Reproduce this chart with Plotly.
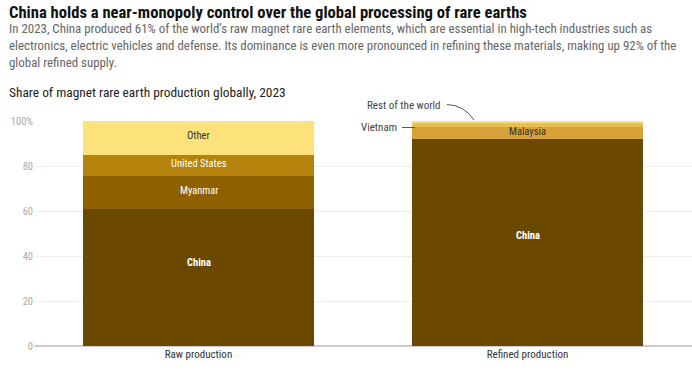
import plotly.graph_objects as go

categories = ["Raw production", "Refined production"]
layer_names = [["China", "China"], ["Myanmar", "Malaysia"], ["United States", "Vietnam"], ["Other", "Rest of the world"]]
layer_values = [[61, 92], [14.6, 5.3], [9.3, 1.6], [15.1, 1.1]]
layer_colors = [["#6b4800", "#6b4800"], ["#8d6100", "#d8a23a"], ["#b5820b", "#ecbd4e"], ["#fde27b", "#fde27b"]]
label_show = [[True, True], [True, True], [True, False], [True, False]]
label_color = [["#ffffff", "#ffffff"], ["#ffffff", "#333333"], ["#ffffff", "#333333"], ["#333333", "#333333"]]
china_label_y = [37, 49]
y_ticks = [0, 20, 40, 60, 80, 100]
y_ticktext = ["0", "20", "40", "60", "80", "100%"]

FONT = "Liberation Sans Narrow, Roboto Condensed, Arial Narrow, Liberation Sans, sans-serif"

fig = go.Figure()
for i in range(len(layer_values)):
    fig.add_trace(go.Bar(
        x=categories, y=layer_values[i], name=layer_names[i][0],
        marker=dict(color=layer_colors[i], line=dict(width=0)),
        hoverinfo="skip", showlegend=False,
    ))

annotations = []
for j, cat in enumerate(categories):
    base = 0
    for i in range(len(layer_values)):
        v = layer_values[i][j]
        if label_show[i][j]:
            y = china_label_y[j] if i == 0 else base + v / 2 + 0.9
            annotations.append(dict(
                x=cat, y=y, xref="x", yref="y", text=("<b>%s</b>" % layer_names[i][j]) if i == 0 else layer_names[i][j],
                showarrow=False, font=dict(size=10.5, color=label_color[i][j], family=FONT),
            ))
        base += v

L, R, T, B = 34, 0, 121, 35
W, H = 692, 381
pw, ph = W - L - R, H - T - B
def px(x):
    return (x - L) / pw
def py(y):
    return (H - B - y) / ph

annotations += [
    dict(x=px(7), y=py(12), xref="paper", yref="paper", xanchor="left", yanchor="middle",
         text="<b>China holds a near-monopoly control over the global processing of rare earths</b>",
         showarrow=False, font=dict(size=16.6, color="#111111", family=FONT)),
    dict(x=px(7), y=py(45.5), xref="paper", yref="paper", xanchor="left", yanchor="middle", align="left",
         text="In 2023, China produced 61% of the world’s raw magnet rare earth elements, which are essential in high-tech industries such as<br>"
              "electronics, electric vehicles and defense. Its dominance is even more pronounced in refining these materials, making up 92% of the<br>"
              "global refined supply.",
         showarrow=False, font=dict(size=12.9, color="#666666", family=FONT)),
    dict(x=px(7), y=py(92), xref="paper", yref="paper", xanchor="left", yanchor="middle",
         text="Share of magnet rare earth production globally, 2023",
         showarrow=False, font=dict(size=13.4, color="#222222", family=FONT)),
    dict(x=px(443), y=py(105), xref="paper", yref="paper", xanchor="right", yanchor="middle",
         text="Rest of the world", showarrow=False, font=dict(size=11, color="#444444", family=FONT)),
    dict(x=px(399), y=py(127.5), xref="paper", yref="paper", xanchor="right", yanchor="middle",
         text="Vietnam", showarrow=False, font=dict(size=11, color="#444444", family=FONT)),
]

shapes = [
    dict(type="path", xref="paper", yref="paper",
         path="M %f %f Q %f %f %f %f" % (px(447), py(104.5), px(464), py(105), px(474), py(120)),
         line=dict(color="#555555", width=1)),
    dict(type="line", xref="paper", yref="paper", x0=px(402), x1=px(415), y0=py(127.5), y1=py(127.5),
         line=dict(color="#555555", width=1)),
]

fig.update_layout(
    barmode="stack", bargap=0.3,
    width=W, height=H,
    margin=dict(l=L, r=R, t=T, b=B, pad=0),
    paper_bgcolor="white", plot_bgcolor="white",
    font=dict(family=FONT, color="#333333"),
    annotations=annotations, shapes=shapes,
    xaxis=dict(showgrid=False, showline=False, ticks="", tickfont=dict(size=11, color="#333333", family=FONT),
               fixedrange=True),
    yaxis=dict(range=[0, 100], tickvals=y_ticks, ticktext=y_ticktext, showgrid=True, gridcolor="#eeeeee",
               gridwidth=1, zeroline=True, zerolinecolor="#cccccc", zerolinewidth=1.5, showline=False, ticks="",
               tickfont=dict(size=10.5, color="#aaaaaa", family=FONT), fixedrange=True),
)

fig.write_html("out.html", config={"displayModeBar": False},
               post_script="document.body.style.margin='0';document.body.style.overflow='hidden';")
